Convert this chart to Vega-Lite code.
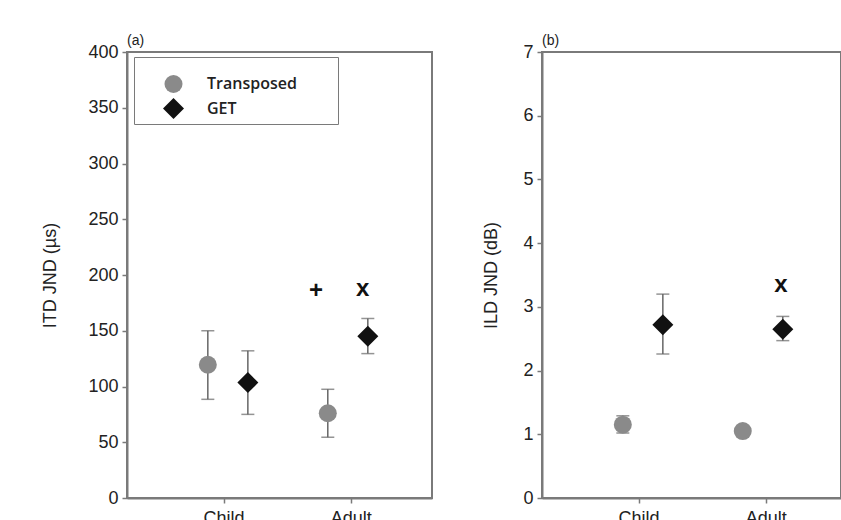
{
  "$schema": "https://vega.github.io/schema/vega-lite/v6.json",
  "background": "white",
  "padding": {"left": 40, "top": 33, "right": 0, "bottom": 0},
  "spacing": 48,
  "config": {
    "font": "Liberation Sans",
    "view": {"stroke": "#7a7a7a", "strokeWidth": 2},
    "axis": {
      "labelFont": "Liberation Sans", "labelFontSize": 18, "labelColor": "#222",
      "titleFont": "Liberation Sans", "titleFontSize": 18, "titleFontWeight": "normal", "titleColor": "#222",
      "domainColor": "#7a7a7a", "domainWidth": 2, "tickColor": "#7a7a7a", "tickWidth": 1.5, "tickSize": 5,
      "grid": false, "labelPadding": 4
    },
    "title": {"fontSize": 14, "fontWeight": "normal", "anchor": "start", "frame": "group", "offset": -5, "color": "#222", "font": "Liberation Sans"}
  },
  "datasets": {
    "itd": [
      {"group": "Child", "cond": "Transposed", "x": 0.876, "mean": 119.5, "lo": 88.5, "hi": 150},
      {"group": "Child", "cond": "GET", "x": 1.191, "mean": 103.5, "lo": 75, "hi": 132},
      {"group": "Adult", "cond": "Transposed", "x": 1.82, "mean": 76, "lo": 54.5, "hi": 97.5},
      {"group": "Adult", "cond": "GET", "x": 2.135, "mean": 145, "lo": 129.5, "hi": 161}
    ],
    "itdmark": [
      {"sym": "+", "x": 1.727, "v": 186},
      {"sym": "x", "x": 2.095, "v": 187}
    ],
    "ild": [
      {"group": "Child", "cond": "Transposed", "x": 0.876, "mean": 1.15, "lo": 1.02, "hi": 1.29},
      {"group": "Child", "cond": "GET", "x": 1.191, "mean": 2.72, "lo": 2.26, "hi": 3.2},
      {"group": "Adult", "cond": "Transposed", "x": 1.82, "mean": 1.05, "lo": 0.98, "hi": 1.1},
      {"group": "Adult", "cond": "GET", "x": 2.135, "mean": 2.65, "lo": 2.47, "hi": 2.85}
    ],
    "ildmark": [
      {"sym": "x", "x": 2.12, "v": 3.35}
    ]
  },
  "hconcat": [
    {
      "title": "(a)",
      "width": 305,
      "height": 446,
      "data": {"name": "itd"},
      "layer": [
        {
          "mark": {"type": "rule", "color": "#666", "strokeWidth": 1.5},
          "encoding": {
            "x": {"field": "x", "type": "quantitative", "scale": {"domain": [0.24, 2.64], "nice": false, "zero": false},
                  "axis": {"values": [1, 2], "labelExpr": "datum.value == 1 ? 'Child' : 'Adult'", "title": null, "labelPadding": 6}},
            "y": {"field": "lo", "type": "quantitative", "scale": {"domain": [0, 400], "nice": false},
                  "axis": {"values": [0, 50, 100, 150, 200, 250, 300, 350, 400], "title": "ITD JND (µs)", "titlePadding": 28}},
            "y2": {"field": "hi"}
          }
        },
        {
          "mark": {"type": "tick", "orient": "horizontal", "size": 13, "thickness": 1.5, "color": "#666"},
          "encoding": {
            "x": {"field": "x", "type": "quantitative"},
            "y": {"field": "lo", "type": "quantitative"}
          }
        },
        {
          "mark": {"type": "tick", "orient": "horizontal", "size": 13, "thickness": 1.5, "color": "#666"},
          "encoding": {
            "x": {"field": "x", "type": "quantitative"},
            "y": {"field": "hi", "type": "quantitative"}
          }
        },
        {
          "mark": {"type": "point", "filled": true, "opacity": 1},
          "encoding": {
            "x": {"field": "x", "type": "quantitative"},
            "y": {"field": "mean", "type": "quantitative"},
            "color": {"field": "cond", "type": "nominal", "scale": {"domain": ["Transposed", "GET"], "range": ["#8a8a8a", "#111111"]},
                      "legend": {"title": "\u00a0", "titleFontSize": 9, "titlePadding": 3, "orient": "none", "legendX": 7, "legendY": 5, "strokeColor": "#7a7a7a",
                                 "padding": 5, "symbolOffset": 23, "labelOffset": 22, "rowPadding": 4,
                                 "labelFont": "Open Sans", "labelFontWeight": 600, "labelFontSize": 16, "labelColor": "#222",
                                 "labelExpr": "datum.label + '\u2800\u2800\u2800'",
                                 "encode": {"legend": {"update": {"strokeWidth": {"value": 2}}}}}},
            "shape": {"field": "cond", "type": "nominal", "scale": {"domain": ["Transposed", "GET"], "range": ["circle", "diamond"]}},
            "size": {"field": "cond", "type": "nominal", "scale": {"domain": ["Transposed", "GET"], "range": [324, 441]}}
          }
        },
        {
          "data": {"name": "itdmark"},
          "mark": {"type": "text", "fontSize": 24, "fontWeight": "bold", "font": "Liberation Sans", "color": "#111", "baseline": "middle"},
          "encoding": {
            "x": {"field": "x", "type": "quantitative"},
            "y": {"field": "v", "type": "quantitative"},
            "text": {"field": "sym"}
          }
        }
      ]
    },
    {
      "title": "(b)",
      "width": 299,
      "height": 446,
      "data": {"name": "ild"},
      "layer": [
        {
          "mark": {"type": "rule", "color": "#666", "strokeWidth": 1.5},
          "encoding": {
            "x": {"field": "x", "type": "quantitative", "scale": {"domain": [0.24, 2.593], "nice": false, "zero": false},
                  "axis": {"values": [1, 2], "labelExpr": "datum.value == 1 ? 'Child' : 'Adult'", "title": null, "labelPadding": 6}},
            "y": {"field": "lo", "type": "quantitative", "scale": {"domain": [0, 7], "nice": false},
                  "axis": {"values": [0, 1, 2, 3, 4, 5, 6, 7], "format": "d", "title": "ILD JND (dB)", "titlePadding": 22}},
            "y2": {"field": "hi"}
          }
        },
        {
          "mark": {"type": "tick", "orient": "horizontal", "size": 13, "thickness": 1.5, "color": "#666"},
          "encoding": {
            "x": {"field": "x", "type": "quantitative"},
            "y": {"field": "lo", "type": "quantitative"}
          }
        },
        {
          "mark": {"type": "tick", "orient": "horizontal", "size": 13, "thickness": 1.5, "color": "#666"},
          "encoding": {
            "x": {"field": "x", "type": "quantitative"},
            "y": {"field": "hi", "type": "quantitative"}
          }
        },
        {
          "mark": {"type": "point", "filled": true, "opacity": 1},
          "encoding": {
            "x": {"field": "x", "type": "quantitative"},
            "y": {"field": "mean", "type": "quantitative"},
            "color": {"field": "cond", "type": "nominal", "scale": {"domain": ["Transposed", "GET"], "range": ["#8a8a8a", "#111111"]}, "legend": null},
            "shape": {"field": "cond", "type": "nominal", "scale": {"domain": ["Transposed", "GET"], "range": ["circle", "diamond"]}, "legend": null},
            "size": {"field": "cond", "type": "nominal", "scale": {"domain": ["Transposed", "GET"], "range": [324, 441]}, "legend": null}
          }
        },
        {
          "data": {"name": "ildmark"},
          "mark": {"type": "text", "fontSize": 24, "fontWeight": "bold", "font": "Liberation Sans", "color": "#111", "baseline": "middle"},
          "encoding": {
            "x": {"field": "x", "type": "quantitative"},
            "y": {"field": "v", "type": "quantitative"},
            "text": {"field": "sym"}
          }
        }
      ]
    }
  ],
  "resolve": {"scale": {"color": "independent", "shape": "independent", "size": "independent"}}
}
